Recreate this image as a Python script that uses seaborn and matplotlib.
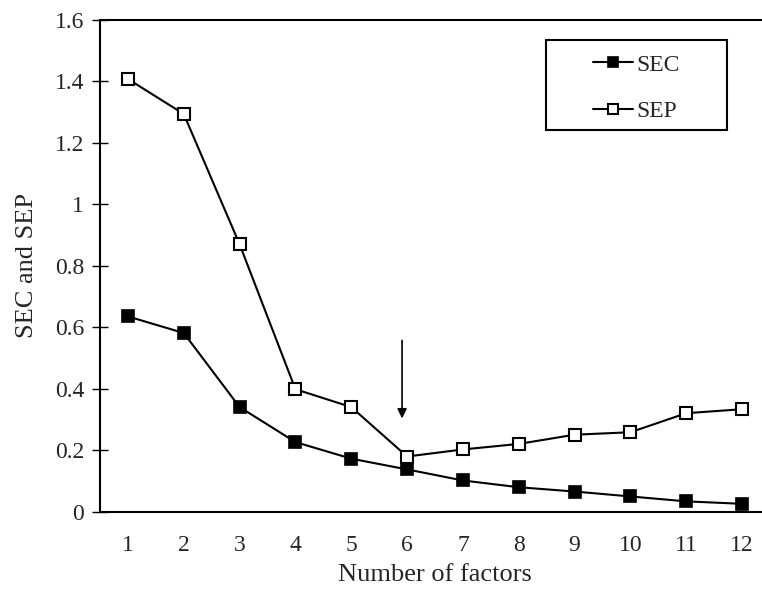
import matplotlib
matplotlib.use('Agg')
import matplotlib.pyplot as plt
import matplotlib.ticker as mticker
from matplotlib.patches import Rectangle
import seaborn as sns

# --- Data ---
factors = [1, 2, 3, 4, 5, 6, 7, 8, 9, 10, 11, 12]
sec = [0.635, 0.581, 0.340, 0.226, 0.172, 0.137, 0.101, 0.079, 0.065, 0.049, 0.033, 0.025]
sep = [1.408, 1.294, 0.870, 0.398, 0.340, 0.179, 0.202, 0.220, 0.250, 0.258, 0.320, 0.333]
y_ticks = [0, 0.2, 0.4, 0.6, 0.8, 1.0, 1.2, 1.4, 1.6]
arrow_x, arrow_top, arrow_tip = 5.91, 0.557, 0.303

sns.set_style('white')
plt.rcParams['font.family'] = ['Liberation Serif', 'DejaVu Serif']

W, H = 762, 591
fig = plt.figure(figsize=(W / 100, H / 100), dpi=100)
ax = fig.add_axes([100 / W, 1 - 511.5 / H, 670 / W, 491.5 / H])

sns.lineplot(x=factors, y=sec, ax=ax, color='black', linewidth=1.5, marker='s',
             markersize=9, markerfacecolor='black', markeredgecolor='black',
             markeredgewidth=1.2, label='SEC')
sns.lineplot(x=factors, y=sep, ax=ax, color='black', linewidth=1.5, marker='s',
             markersize=9, markerfacecolor='white', markeredgecolor='black',
             markeredgewidth=1.5, label='SEP')

# arrow marking the chosen number of factors
ax.annotate('', xy=(arrow_x, arrow_tip), xytext=(arrow_x, arrow_top),
            arrowprops=dict(arrowstyle='-|>', color='black', lw=1.2,
                            mutation_scale=14, shrinkA=0, shrinkB=0))

ax.set_xlim(0.5, 12.5)
ax.set_ylim(0, 1.6)
ax.set_xticks(factors)
ax.set_xticklabels([str(f) for f in factors])
ax.xaxis.set_minor_locator(mticker.FixedLocator([f + 0.5 for f in factors[:-1]]))
ax.tick_params(axis='x', which='major', length=0, labelsize=17, pad=17)
ax.tick_params(axis='x', which='minor', direction='inout', length=11, width=1, color='black')
ax.set_yticks(y_ticks)
ax.yaxis.set_major_formatter(mticker.FuncFormatter(lambda v, p: f'{v:g}'))
ax.tick_params(axis='y', direction='inout', length=11, width=1, color='black',
               labelsize=17, pad=6, left=True)

ax.set_xlabel('Number of factors', fontsize=19, labelpad=6)
ax.set_ylabel('SEC and SEP', fontsize=19, labelpad=12)

for side in ['left', 'bottom', 'top']:
    ax.spines[side].set_color('black')
    ax.spines[side].set_linewidth(1.5)
ax.spines['right'].set_visible(False)

# legend box: wide frame drawn separately, entries centred inside it
box_l, box_r, box_t, box_b = 546, 727, 40, 130
ax.add_patch(Rectangle((box_l / W, 1 - box_b / H), (box_r - box_l) / W,
                       (box_b - box_t) / H, transform=fig.transFigure,
                       facecolor='white', edgecolor='black', linewidth=1.5,
                       zorder=4, clip_on=False))
leg = ax.legend(loc='center', bbox_to_anchor=((box_l + box_r) / 2 / W, 1 - (box_t + box_b + 6) / 2 / H),
                bbox_transform=fig.transFigure, fontsize=17, frameon=False,
                handlelength=1.7, handletextpad=0.15, labelspacing=1.05,
                borderpad=0, borderaxespad=0)
leg.set_zorder(6)
for h in leg.legend_handles:
    h.set_markersize(7)

fig.savefig('out.png', dpi=100, facecolor='white')
